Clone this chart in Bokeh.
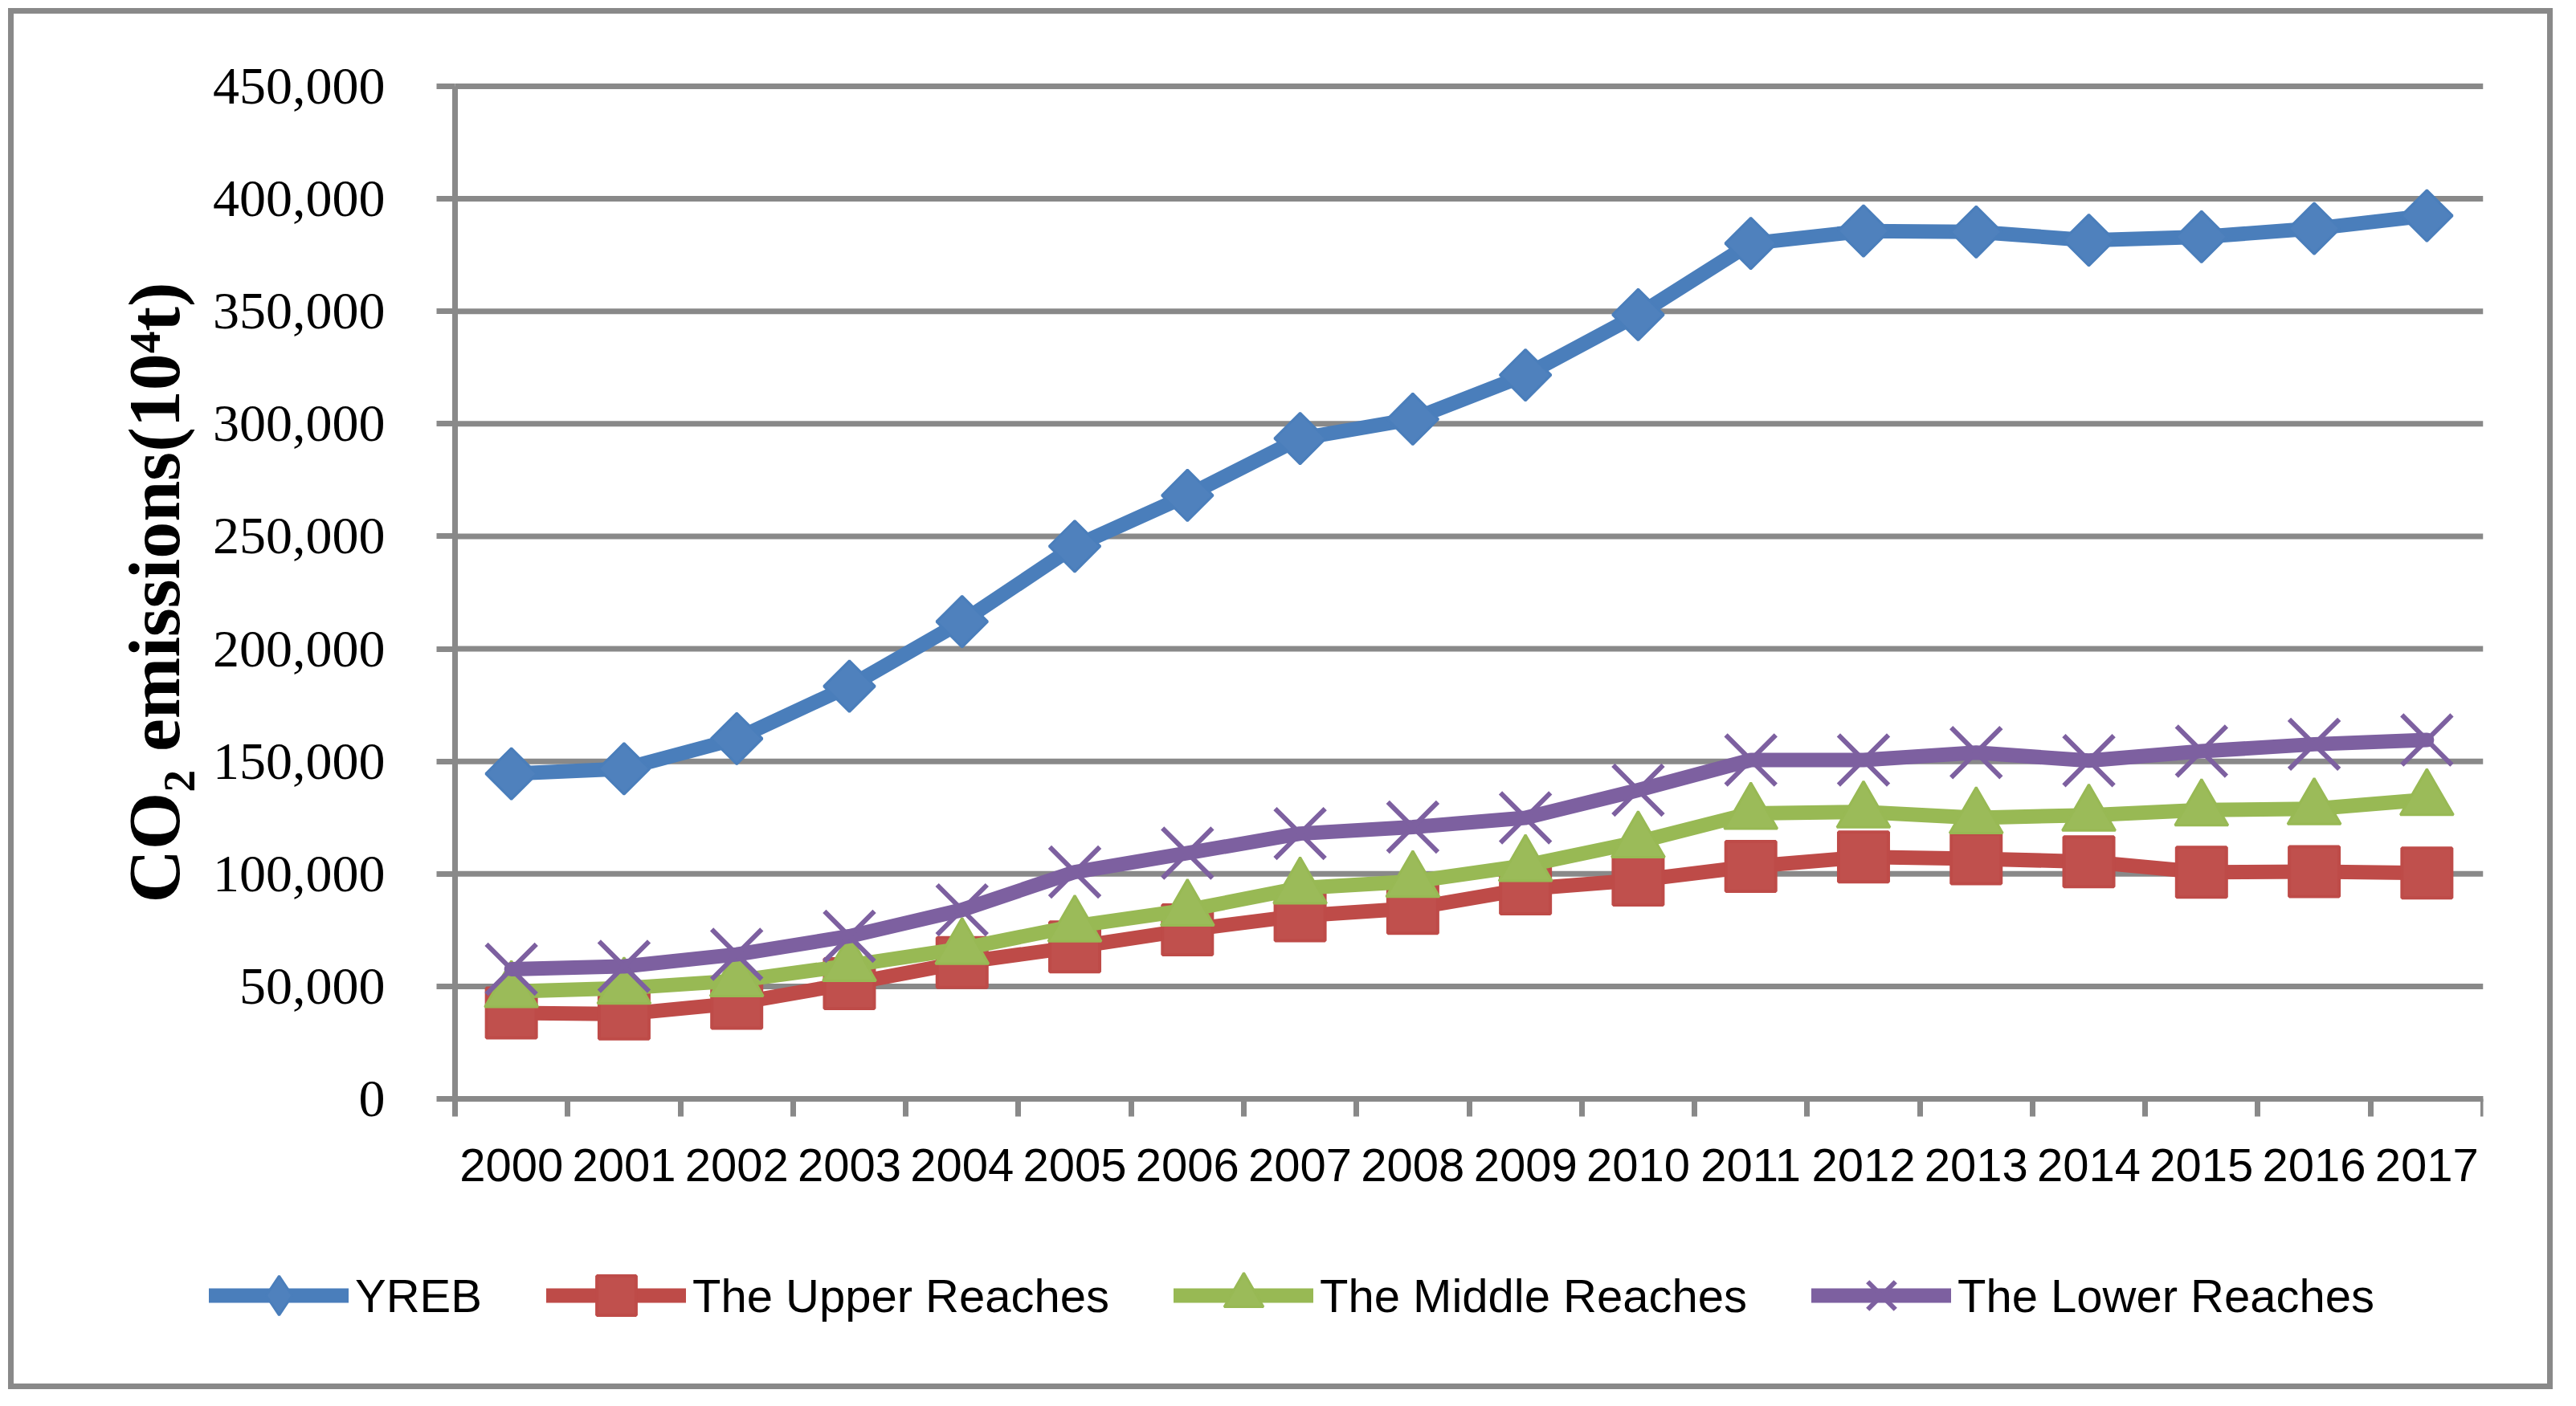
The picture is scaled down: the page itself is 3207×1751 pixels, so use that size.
import numpy as np
from bokeh.plotting import figure
from bokeh.models import (Range1d, FixedTicker, NumeralTickFormatter, Legend,
                          LegendItem, ColumnDataSource)
from bokeh.embed import file_html
from bokeh.resources import INLINE

# ---- data ----
years = ["2000", "2001", "2002", "2003", "2004", "2005", "2006", "2007", "2008",
         "2009", "2010", "2011", "2012", "2013", "2014", "2015", "2016", "2017"]
yreb = [144500, 146700, 160100, 183400, 212100, 245600, 268200, 293500, 302100,
        321700, 348500, 380200, 385700, 385300, 381600, 383100, 386800, 392500]
upper = [38200, 37700, 42500, 51200, 60600, 67500, 75100, 81400, 84700,
         93300, 97200, 103300, 107500, 106700, 105400, 100700, 101000, 100400]
middle = [47700, 49200, 52500, 59300, 66800, 76800, 83900, 93700, 96600,
          103700, 114200, 126900, 127500, 124900, 126100, 128400, 128900, 133000]
lower = [57600, 58900, 64200, 72300, 84000, 100800, 109200, 117900, 120800,
         124900, 137200, 150600, 150600, 153900, 150300, 154500, 157600, 159500]
series_names = ["YREB", "The Upper Reaches", "The Middle Reaches", "The Lower Reaches"]
y_ticks = [0, 50000, 100000, 150000, 200000, 250000, 300000, 350000, 400000, 450000]
y_label = "CO\u2082 emissions(10\u2074t)"

GRAY = "#898989"
n = len(years)
xs = np.arange(n) + 0.5
y_lo, y_hi = y_ticks[0], y_ticks[-1]

# ---- layout (canvas pixels) ----
W, H = 3168, 1720
FL, FR, FT, FB = 100, 3074, 20, 1700          # drawing frame
AX_L, AX_T, AX_B = 549, 90, 1351              # plot-area edges (y axis, top grid, zero line)
px_x = (FR - AX_L) / n
px_y = (AX_B - AX_T) / (y_hi - y_lo)
x_range = Range1d(-(AX_L - FL) / px_x, n)
y_range = Range1d(y_lo - (FB - AX_B) / px_y, y_hi + (AX_T - FT) / px_y)

p = figure(width=W, height=H, output_backend="svg", toolbar_location=None,
           x_range=x_range, y_range=y_range,
           min_border_left=FL, min_border_right=W - FR, min_border_top=FT,
           min_border_bottom=H - FB)
p.styles = {"border": f"7px solid {GRAY}", "transform": "translate(10px, 10px)"}
p.outline_line_color = None
p.background_fill_color = "white"
p.border_fill_color = "white"

# horizontal grid lines, only across the plot area
p.segment(x0=0, x1=n, y0=y_ticks, y1=y_ticks, line_color=GRAY, line_width=7)
p.xgrid.visible = False
p.ygrid.visible = False

# x axis drawn along y = 0, ticks at category boundaries, labels at centres
p.xaxis.fixed_location = 0
p.xaxis.bounds = (0, n)
p.xaxis.ticker = FixedTicker(ticks=list(xs), minor_ticks=list(range(n + 1)))
p.xaxis.major_label_overrides = {float(x): y for x, y in zip(xs, years)}
p.xaxis.major_tick_line_color = None
p.xaxis.major_tick_in = 0
p.xaxis.major_tick_out = 22
p.xaxis.minor_tick_in = 0
p.xaxis.minor_tick_out = 22
p.xaxis.minor_tick_line_color = GRAY
p.xaxis.minor_tick_line_width = 7
p.xaxis.major_label_standoff = 40
p.xaxis.major_label_text_font = "Liberation Sans"
p.xaxis.major_label_text_font_size = "58px"
p.xaxis.major_label_text_color = "black"
p.xaxis.axis_line_color = GRAY
p.xaxis.axis_line_width = 7

# y axis drawn along x = 0
p.yaxis.fixed_location = 0
p.yaxis.bounds = (y_lo, y_hi)
p.yaxis.ticker = FixedTicker(ticks=y_ticks)
p.yaxis.formatter = NumeralTickFormatter(format="0,0")
p.yaxis.minor_tick_line_color = None
p.yaxis.major_tick_in = 0
p.yaxis.major_tick_out = 23
p.yaxis.major_tick_line_color = GRAY
p.yaxis.major_tick_line_width = 7
p.yaxis.major_label_standoff = 64
p.yaxis.major_label_text_font = "Liberation Serif"
p.yaxis.major_label_text_font_size = "66px"
p.yaxis.major_label_text_color = "black"
p.yaxis.axis_line_color = GRAY
p.yaxis.axis_line_width = 7
p.yaxis.axis_label = y_label
p.yaxis.axis_label_text_font = "Liberation Serif"
p.yaxis.axis_label_text_font_style = "bold"
p.yaxis.axis_label_text_font_size = "92px"
p.yaxis.axis_label_text_color = "black"
p.yaxis.axis_label_standoff = 19

styles = [
    # line colour, marker fill, marker, size, angle, marker line width
    ("#4A7EBB", "#4F81BD", "square", 45, np.pi / 4, 3),
    ("#BE4B48", "#C0504D", "square", 62, 0.0, 4),
    ("#98B954", "#9BBB59", "triangle", 66, 0.0, 3),
    ("#7D60A0", "#8064A2", "x", 88, 0.0, 6),
]
values = [yreb, upper, middle, lower]

items = []
for name, vals, (lc, fc, mk, sz, ang, mlw) in zip(series_names, values, styles):
    src = ColumnDataSource(dict(x=xs, y=vals))
    lr = p.line("x", "y", source=src, line_color=lc, line_width=18,
                line_join="round", line_cap="round")
    if ang != 0.0:
        # upright diamond (hidden under the rotated square) used as the legend symbol
        leg_r = p.scatter("x", "y", source=src, marker="diamond", size=sz * 1.3,
                          fill_color=fc, line_color=lc, line_width=mlw)
    sr = p.scatter("x", "y", source=src, marker=mk, size=sz, angle=ang,
                   fill_color=fc, line_color=lc, line_width=mlw)
    items.append(LegendItem(label=name,
                            renderers=[lr, leg_r if ang != 0.0 else sr]))

LEG_L, LEG_B = 243, 1657                      # legend box left / bottom (canvas px)
legend = Legend(items=items, orientation="horizontal",
                location=(LEG_L - FL, FB - LEG_B),
                glyph_width=174, glyph_height=122, label_standoff=8, spacing=80,
                padding=0, margin=0, border_line_color=None,
                background_fill_alpha=0,
                label_text_font="Liberation Sans", label_text_font_size="58px",
                label_text_color="black")
p.add_layout(legend)

open("out.html", "w").write(file_html(p, INLINE))
